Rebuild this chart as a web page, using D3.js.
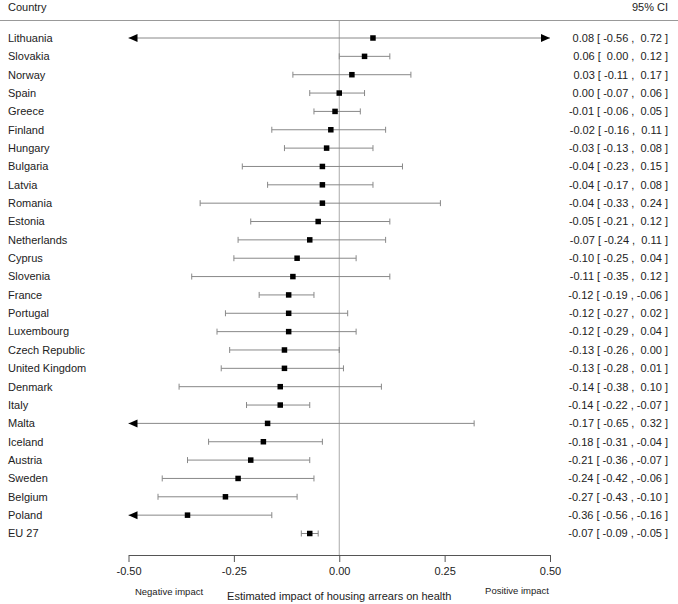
<!DOCTYPE html>
<html>
<head>
<meta charset="utf-8">
<script src="https://cdn.jsdelivr.net/npm/d3@7"></script>
<style>
  body { margin: 0; background: #fff; }
  svg text { font-family: "Liberation Sans", Arial, sans-serif; fill: #222; }
</style>
</head>
<body>
<div id="chart"></div>
<script>
// data
const countries = ["Lithuania", "Slovakia", "Norway", "Spain", "Greece", "Finland", "Hungary",
  "Bulgaria", "Latvia", "Romania", "Estonia", "Netherlands", "Cyprus", "Slovenia", "France",
  "Portugal", "Luxembourg", "Czech Republic", "United Kingdom", "Denmark", "Italy", "Malta",
  "Iceland", "Austria", "Sweden", "Belgium", "Poland", "EU 27"];
const estimates = [0.08, 0.06, 0.03, 0.00, -0.01, -0.02, -0.03, -0.04, -0.04, -0.04, -0.05, -0.07,
  -0.10, -0.11, -0.12, -0.12, -0.12, -0.13, -0.13, -0.14, -0.14, -0.17, -0.18, -0.21, -0.24,
  -0.27, -0.36, -0.07];
const lower = [-0.56, 0.00, -0.11, -0.07, -0.06, -0.16, -0.13, -0.23, -0.17, -0.33, -0.21, -0.24,
  -0.25, -0.35, -0.19, -0.27, -0.29, -0.26, -0.28, -0.38, -0.22, -0.65, -0.31, -0.36, -0.42,
  -0.43, -0.56, -0.09];
const upper = [0.72, 0.12, 0.17, 0.06, 0.05, 0.11, 0.08, 0.15, 0.08, 0.24, 0.12, 0.11, 0.04, 0.12,
  -0.06, 0.02, 0.04, 0.00, 0.01, 0.10, -0.07, 0.32, -0.04, -0.07, -0.06, -0.10, -0.16, -0.05];
const xTicks = [-0.5, -0.25, 0, 0.25, 0.5];

const width = 678, height = 604;
const xMin = -0.5, xMax = 0.5;

const rows = countries.map((c, i) => ({ country: c, est: estimates[i], lo: lower[i], hi: upper[i] }));

const svg = d3.select("#chart").append("svg")
  .attr("width", width)
  .attr("height", height);

const x = d3.scaleLinear().domain([xMin, xMax]).range([128.5, 550]);
const y = d3.scalePoint().domain(countries).range([38, 533.5]);
const axisY = 555;

// header
svg.append("text").attr("x", 8).attr("y", 10.5).attr("font-size", 11)
  .text("Country");
svg.append("text").attr("x", 668).attr("y", 10.5).attr("font-size", 11)
  .attr("text-anchor", "end").text("95% CI");
svg.append("line").attr("x1", 0).attr("x2", width).attr("y1", 20.5).attr("y2", 20.5)
  .attr("stroke", "#999").attr("stroke-width", 1.2);

// zero line
svg.append("line").attr("x1", x(0)).attr("x2", x(0)).attr("y1", 21).attr("y2", axisY)
  .attr("stroke", "#aaa").attr("stroke-width", 1);

// country labels
svg.selectAll("text.country").data(rows).join("text")
  .attr("class", "country")
  .attr("x", 8).attr("y", d => y(d.country)).attr("dy", "0.35em")
  .attr("font-size", 11)
  .text(d => d.country);

// CI text (non-breaking spaces keep the padding)
const sp = "\u00a0";
const f = v => (v < 0 ? "" : sp) + v.toFixed(2);
svg.selectAll("text.ci").data(rows).join("text")
  .attr("class", "ci")
  .attr("x", 668).attr("y", d => y(d.country)).attr("dy", "0.35em")
  .attr("font-size", 11).attr("text-anchor", "end")
  .text(d => `${d.est.toFixed(2)}${sp}[${sp}${f(d.lo)}${sp},${sp}${f(d.hi)}${sp}]`);

// CI lines, clipped to the axis range
const clip = v => Math.max(xMin, Math.min(xMax, v));
svg.selectAll("line.ci").data(rows).join("line")
  .attr("class", "ci")
  .attr("x1", d => x(clip(d.lo))).attr("x2", d => x(clip(d.hi)))
  .attr("y1", d => y(d.country)).attr("y2", d => y(d.country))
  .attr("stroke", "#888").attr("stroke-width", 1);

// caps where the interval fits
const caps = [];
rows.forEach(d => {
  if (d.lo >= xMin) caps.push({ country: d.country, v: d.lo });
  if (d.hi <= xMax) caps.push({ country: d.country, v: d.hi });
});
svg.selectAll("line.cap").data(caps).join("line")
  .attr("class", "cap")
  .attr("x1", d => x(d.v)).attr("x2", d => x(d.v))
  .attr("y1", d => y(d.country) - 3).attr("y2", d => y(d.country) + 3)
  .attr("stroke", "#888").attr("stroke-width", 1);

// arrows where the interval runs off the axis
const arrows = [];
rows.forEach(d => {
  if (d.lo < xMin) arrows.push({ country: d.country, v: xMin, dir: -1 });
  if (d.hi > xMax) arrows.push({ country: d.country, v: xMax, dir: 1 });
});
svg.selectAll("path.arrow").data(arrows).join("path")
  .attr("class", "arrow")
  .attr("d", d => {
    const tx = x(d.v), ty = y(d.country);
    return `M${tx},${ty}L${tx - d.dir * 9},${ty - 4}L${tx - d.dir * 9},${ty + 4}Z`;
  })
  .attr("fill", "#000");

// point estimates
const s = 5.5;
svg.selectAll("rect.est").data(rows).join("rect")
  .attr("class", "est")
  .attr("x", d => x(d.est) - s / 2).attr("y", d => y(d.country) - s / 2)
  .attr("width", s).attr("height", s)
  .attr("fill", "#000");

// axis
const axis = svg.append("g")
  .attr("transform", `translate(0,${axisY})`)
  .call(d3.axisBottom(x).tickValues(xTicks).tickFormat(d => d.toFixed(2)).tickSize(7).tickSizeOuter(0));
axis.select(".domain").attr("stroke", "#555");
axis.selectAll(".tick line").attr("stroke", "#555");
axis.selectAll(".tick text").attr("font-size", 11).attr("font-family", "Liberation Sans, Arial, sans-serif")
  .attr("fill", "#222").attr("y", 12);

svg.append("text").attr("x", 169).attr("y", 595).attr("font-size", 9.5)
  .attr("text-anchor", "middle").text("Negative impact");
svg.append("text").attr("x", 517).attr("y", 594).attr("font-size", 9.5)
  .attr("text-anchor", "middle").text("Positive impact");
svg.append("text").attr("x", x(0)).attr("y", 600).attr("font-size", 11)
  .attr("text-anchor", "middle").text("Estimated impact of housing arrears on health");
</script>
</body>
</html>
